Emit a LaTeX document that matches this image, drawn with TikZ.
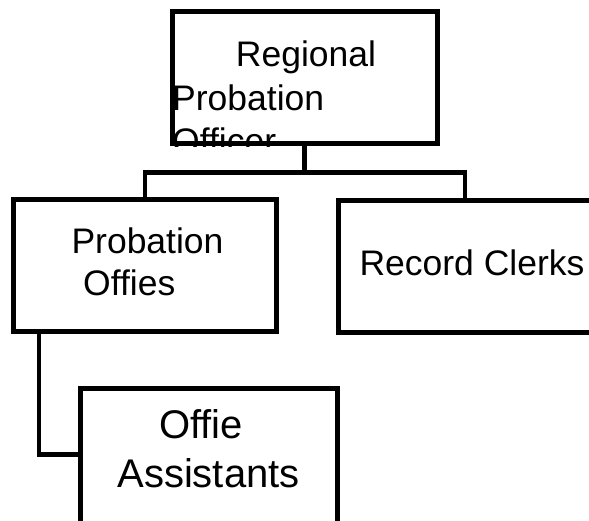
\documentclass[tikz,border=0pt]{standalone}
\usepackage{fontspec}
\setmainfont{Liberation Sans}
\begin{document}
\begin{tikzpicture}[x=1pt,y=-1pt,
  box/.style={draw=black,line width=5pt,rectangle,inner sep=0pt,minimum height=132pt},
  conn/.style={draw=black,line width=4.8pt,line join=miter},
  lbl/.style={inner sep=0pt,font=\fontsize{35.5}{43}\selectfont},
  lblbig/.style={inner sep=0pt,font=\fontsize{40}{49}\selectfont}]
\clip (0,0) rectangle (589,520);
\node[box,minimum width=264.5pt] (rpo) at (304.75,77.5) {};
\node[box,minimum width=263.5pt] (po) at (144.75,265.5) {};
\node[box,minimum width=264pt] (rc) at (470,266) {};
\node[box,minimum width=257.5pt,minimum height=140pt] (oa) at (208.75,458.5) {};
% connectors
\coordinate (bl) at (145,172.5);
\coordinate (br) at (465,172.5);
\coordinate (pl) at (39,331.5);
\coordinate (pe) at (39,454.5);
\draw[conn] (rpo.south) -- (rpo.south |- bl);
\draw[conn] (po.north -| bl) -- (bl) -- (br) -- (br |- rc.north);
\draw[conn] (pl) -- (pe) -- (pe -| oa.west);
% texts
\begin{scope}
\clip (rpo.north west) rectangle (rpo.south east);
\node[lbl,anchor=base] (t1) at (306,66) {Regional};
\node[lbl,anchor=base west] (t2) at (172,110) {Probation};
\node[lbl,anchor=base west] (t3) at (172,153) {Officer};
\end{scope}
\node[lbl,anchor=base] (t4) at (147.5,253) {Probation};
\node[lbl,anchor=base west] (t5) at (83,295) {Offies};
\node[lbl,anchor=base] (t6) at (472,275) {Record Clerks};
\node[lblbig,anchor=base] (t7) at (201,438) {Offie};
\node[lblbig,anchor=base] (t8) at (208.5,487) {Assistants};
\end{tikzpicture}
\end{document}
